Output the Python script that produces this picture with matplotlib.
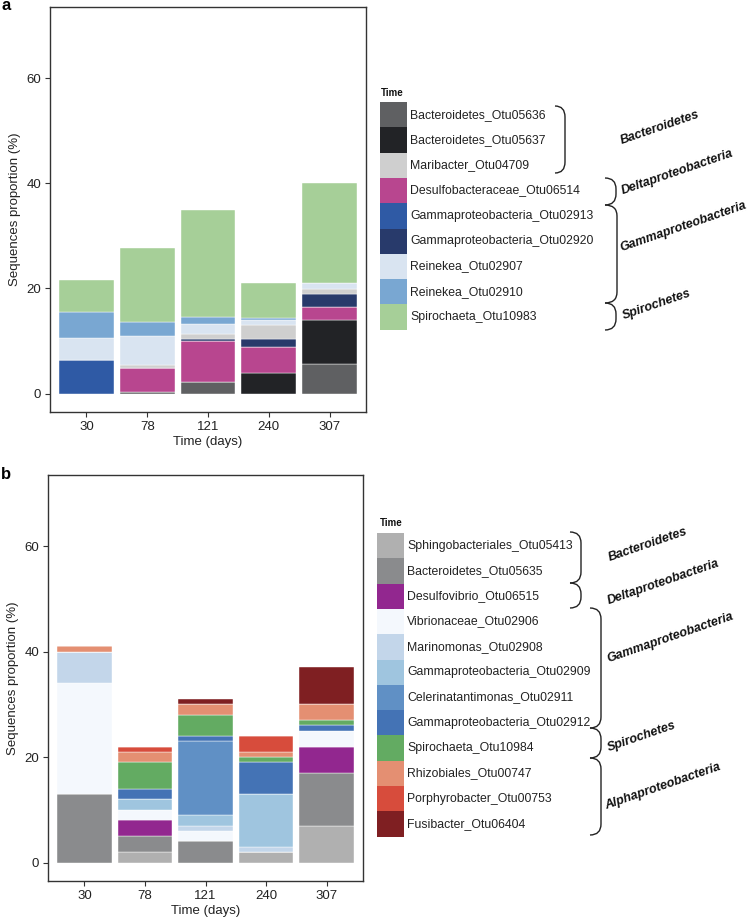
import matplotlib
matplotlib.use("Agg")
import matplotlib.pyplot as plt
from matplotlib.patches import Rectangle, PathPatch
from matplotlib.path import Path
import numpy as np

plt.rcParams['font.family'] = ['Liberation Sans', 'DejaVu Sans']

times = ['30', '78', '121', '240', '307']

# ---------------- Panel a ----------------
names_a = ['Bacteroidetes_Otu05636', 'Bacteroidetes_Otu05637', 'Maribacter_Otu04709',
           'Desulfobacteraceae_Otu06514', 'Gammaproteobacteria_Otu02913',
           'Gammaproteobacteria_Otu02920', 'Reinekea_Otu02907', 'Reinekea_Otu02910',
           'Spirochaeta_Otu10983']
colors_a = ['#5f6062', '#222326', '#cfcfcf', '#b8468f', '#2f5aa5', '#283a6b',
            '#d9e4f1', '#79a7d2', '#a6cf98']
values_a = {
    'Bacteroidetes_Otu05636':      [0.0, 0.3, 2.2, 0.0, 5.7],
    'Bacteroidetes_Otu05637':      [0.0, 0.0, 0.0, 3.9, 8.2],
    'Desulfobacteraceae_Otu06514': [0.0, 4.6, 7.8, 5.0, 2.5],
    'Gammaproteobacteria_Otu02913': [6.3, 0.0, 0.0, 0.0, 0.0],
    'Gammaproteobacteria_Otu02920': [0.0, 0.0, 0.4, 1.4, 2.5],
    'Maribacter_Otu04709':         [0.0, 0.6, 0.9, 2.7, 0.9],
    'Reinekea_Otu02907':           [4.3, 5.4, 2.0, 1.0, 1.2],
    'Reinekea_Otu02910':           [5.0, 2.7, 1.3, 0.3, 0.0],
    'Spirochaeta_Otu10983':        [6.0, 14.0, 20.4, 6.7, 19.0],
}
stack_a = sorted(names_a)  # bars are stacked alphabetically
groups_a = ['Bacteroidetes', 'Deltaproteobacteria', 'Gammaproteobacteria', 'Spirochetes']

# ---------------- Panel b ----------------
names_b = ['Sphingobacteriales_Otu05413', 'Bacteroidetes_Otu05635', 'Desulfovibrio_Otu06515',
           'Vibrionaceae_Otu02906', 'Marinomonas_Otu02908', 'Gammaproteobacteria_Otu02909',
           'Celerinatantimonas_Otu02911', 'Gammaproteobacteria_Otu02912',
           'Spirochaeta_Otu10984', 'Rhizobiales_Otu00747', 'Porphyrobacter_Otu00753',
           'Fusibacter_Otu06404']
colors_b = ['#b0b0b0', '#8a8b8d', '#92278f', '#f4f8fd', '#c3d6ea', '#9fc5df',
            '#6090c5', '#4473b5', '#63ab62', '#e48f72', '#d74c3c', '#7f1f22']
values_b = {
    'Sphingobacteriales_Otu05413':   [0, 2, 0, 2, 7],
    'Bacteroidetes_Otu05635':        [13, 3, 4, 0, 10],
    'Desulfovibrio_Otu06515':        [0, 3, 0, 0, 5],
    'Vibrionaceae_Otu02906':         [21, 2, 2, 0, 3],
    'Marinomonas_Otu02908':          [6, 0, 1, 1, 0],
    'Gammaproteobacteria_Otu02909':  [0, 2, 2, 10, 0],
    'Celerinatantimonas_Otu02911':   [0, 0, 14, 0, 0],
    'Gammaproteobacteria_Otu02912':  [0, 2, 1, 6, 1],
    'Spirochaeta_Otu10984':          [0, 5, 4, 1, 1],
    'Rhizobiales_Otu00747':          [1, 2, 2, 1, 3],
    'Porphyrobacter_Otu00753':       [0, 1, 0, 3, 0],
    'Fusibacter_Otu06404':           [0, 0, 1, 0, 7],
}
stack_b = list(names_b)
groups_b = ['Bacteroidetes', 'Deltaproteobacteria', 'Gammaproteobacteria', 'Spirochetes',
            'Alphaproteobacteria']

yticks = [0, 20, 40, 60]

W, H = 748, 918
fig = plt.figure(figsize=(W / 100, H / 100), dpi=100)


def fx(x):
    return x / W


def fy(y):
    return 1 - y / H


def make_axes(left, top, right, bottom):
    return fig.add_axes([fx(left), fy(bottom), fx(right) - fx(left), fy(top) - fy(bottom)])


def draw_panel(ax, names, colors, values, stack):
    cmap = dict(zip(names, colors))
    x = np.arange(len(times))
    bottom = np.zeros(len(times))
    for n in stack:
        v = np.array(values[n], dtype=float)
        ax.bar(x, v, bottom=bottom, width=0.9, color=cmap[n], edgecolor='white',
               linewidth=0.3)
        bottom += v
    ax.set_xlim(-0.6, len(times) - 0.4)
    ax.set_ylim(-3.5, 73.5)
    ax.set_xticks(x)
    ax.set_xticklabels(times)
    ax.set_yticks(yticks)
    ax.tick_params(axis='both', length=3.5, width=0.8, color='#333333',
                   labelsize=9.5, labelcolor='#222222', pad=3)
    for s in ax.spines.values():
        s.set_color('#333333')
        s.set_linewidth(1.0)
    ax.set_ylabel('Sequences proportion (%)', fontsize=9.5, color='#222222', labelpad=4)
    ax.set_xlabel('Time (days)', fontsize=9.5, color='#222222', labelpad=2)


def draw_legend(names, colors, key_left, key_top, key_w, key_h, title_xy):
    fig.text(fx(title_xy[0]), fy(title_xy[1]), 'Time', fontsize=7, fontweight='bold',
             ha='left', va='center', color='#111111')
    for i, (n, c) in enumerate(zip(names, colors)):
        y0 = key_top + i * key_h
        fig.patches.append(Rectangle((fx(key_left), fy(y0 + key_h)), fx(key_w),
                                     key_h / H, transform=fig.transFigure,
                                     facecolor=c, edgecolor='none'))
        fig.text(fx(key_left + key_w + 3), fy(y0 + key_h / 2), n, fontsize=8.8,
                 ha='left', va='center', color='#222222')


def bracket(x0, x1, ytop, ybot):
    r = min(11, (ybot - ytop) / 2.0)
    verts = [(fx(x0), fy(ytop)), (fx(x1), fy(ytop)), (fx(x1), fy(ytop + r)),
             (fx(x1), fy(ybot - r)), (fx(x1), fy(ybot)), (fx(x0), fy(ybot))]
    codes = [Path.MOVETO, Path.CURVE3, Path.CURVE3, Path.LINETO, Path.CURVE3, Path.CURVE3]
    fig.patches.append(PathPatch(Path(verts, codes), transform=fig.transFigure,
                                 facecolor='none', edgecolor='#222222', linewidth=1.0))


def group_label(text, x, y):
    fig.text(fx(x), fy(y), text, fontsize=9, fontweight='bold', fontstyle='italic',
             rotation=19, ha='center', va='center', rotation_mode='anchor',
             color='#111111')


# Panel a
axa = make_axes(50, 7, 366, 412)
draw_panel(axa, names_a, colors_a, values_a, stack_a)
fig.text(fx(1), fy(6), 'a', fontsize=12, fontweight='bold', ha='left', va='center')
draw_legend(names_a, colors_a, 380, 102, 27, 25.3, (381, 93))
bracket(555, 565, 106, 173)
bracket(605, 616, 178, 205)
bracket(605, 617, 205, 303)
bracket(605, 616, 303, 330)
for t, (x, y) in zip(groups_a, [(660, 128), (677, 172), (683, 227), (657, 305)]):
    group_label(t, x, y)

# Panel b
axb = make_axes(48, 475, 363, 881)
draw_panel(axb, names_b, colors_b, values_b, stack_b)
fig.text(fx(1), fy(474), 'b', fontsize=12, fontweight='bold', ha='left', va='center')
draw_legend(names_b, colors_b, 377, 533, 27, 25.3, (380, 523))
bracket(570, 581, 532, 583)
bracket(570, 581, 583, 608)
bracket(590, 601, 608, 728)
bracket(590, 601, 728, 758)
bracket(590, 601, 758, 835)
for t, (x, y) in zip(groups_b, [(648, 545), (663, 582), (670, 638), (642, 737), (663, 787)]):
    group_label(t, x, y)

fig.savefig('out.png', dpi=100)
